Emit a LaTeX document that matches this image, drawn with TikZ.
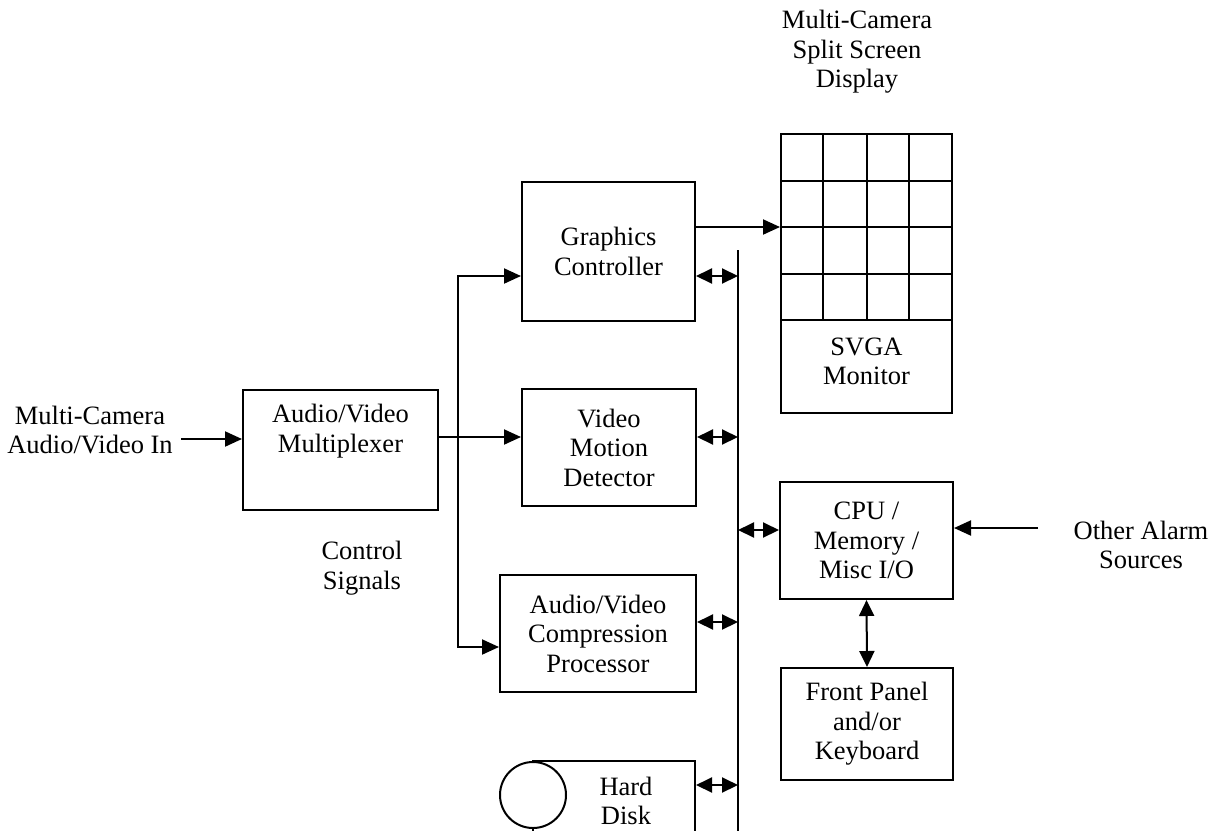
\documentclass[tikz,border=0pt]{standalone}
\usepackage{fontspec}
\setmainfont{Liberation Serif}
\usetikzlibrary{arrows.meta}
\begin{document}
\begin{tikzpicture}[x=1pt,y=-1pt,
  box/.style={draw, line width=2pt, inner sep=0pt, align=center, fill=white},
  txt/.style={inner sep=0pt, align=center},
  wire/.style={line width=2pt},
  arr/.style={wire, -{Triangle[length=17pt,width=15pt]}},
  bi/.style={wire, {Triangle[length=16pt,width=15pt]}-{Triangle[length=16pt,width=15pt]}},
  every node/.append style={font=\fontsize{26.5}{29.5}\selectfont}]
\clip (0,0) rectangle (1214,830);
\useasboundingbox (0,0) rectangle (1214,830);
\fill[white] (0,0) rectangle (1214,830);

% title
\node[txt] (title) at (857,52) {Multi-Camera\\Split Screen\\Display};

% input text and multiplexer
\node[txt] (in) at (90,430) {Multi-Camera\\Audio/Video In};
\coordinate (insrc) at (181,439);
\node[box, minimum width=195pt, minimum height=120pt] (mux) at (340.5,450) {};
\node[txt] (muxt) at (340.5,431) {Audio/Video\\Multiplexer};
\node[txt] (ctl) at (362,568) {Control\\Signals};

% middle boxes
\node[box, minimum width=173pt, minimum height=139pt] (gc) at (608.5,251.5) {Graphics\\Controller};
\node[box, minimum width=174pt, minimum height=117pt] (vmd) at (609,447.5) {Video\\Motion\\Detector};
\node[box, minimum width=196pt, minimum height=117pt] (comp) at (598,633.5) {Audio/Video\\Compression\\Processor};
\node[box, minimum width=162pt, minimum height=90pt] (hd) at (614,806) {};
\node[draw, circle, line width=2pt, fill=white, minimum size=66pt, inner sep=0pt] (disk) at (533,795) {};
\node[txt] (hdt) at (626,801) {Hard\\Disk};

% monitor
\node[box, minimum width=171pt, minimum height=279pt] (mon) at (866.5,273.5) {};
\foreach \x in {823,867,909} \draw[wire] (\x,134) -- (\x,320);
\foreach \y in {181,227,274,320} \draw[wire] (781,\y) -- (952,\y);
\node[txt] (svga) at (866.5,361.5) {SVGA\\Monitor};

% CPU, front panel
\node[box, minimum width=173pt, minimum height=117pt] (cpu) at (866.5,540.5) {CPU /\\Memory /\\Misc I/O};
\node[box, minimum width=172pt, minimum height=112pt] (fp) at (867,724) {Front Panel\\and/or\\Keyboard};
\node[txt] (alarm) at (1141,545) {Other Alarm\\Sources};
\coordinate (alarmsrc) at (1038,528);

% bus
\coordinate (bustop) at (738,250);
\coordinate (busbot) at (738,840);
\draw[wire] (bustop) -- (busbot);

% control / data lines
\coordinate (cj) at (458,437);
\draw[arr] (insrc) -- (mux.west |- insrc);
\draw[arr] (mux.east |- cj) -- (vmd.west |- cj);
\draw[arr] (cj) |- (gc.west |- 0,276);
\draw[arr] (cj) |- (comp.west |- 0,647);
\draw[arr] (gc.east |- 0,227) -- (mon.west |- 0,227);

% bus arrows
\draw[bi] (gc.east |- 0,276) -- (bustop |- 0,276);
\draw[bi] (vmd.east |- 0,437) -- (bustop |- 0,437);
\draw[bi] (comp.east |- 0,622) -- (bustop |- 0,622);
\draw[bi] (hd.east |- 0,785) -- (bustop |- 0,785);
\draw[bi] (bustop |- 0,530) -- (cpu.west |- 0,530);
\draw[bi] (cpu.south) -- (fp.north);
\draw[arr] (alarmsrc) -- (cpu.east |- alarmsrc);
\end{tikzpicture}
\end{document}
